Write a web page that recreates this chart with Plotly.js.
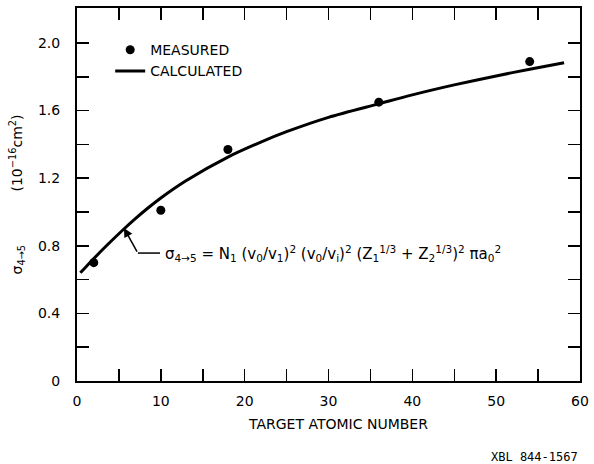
<!DOCTYPE html>
<html>
<head>
<meta charset="utf-8">
<script src="https://cdn.plot.ly/plotly-3.0.1.min.js"></script>
<style>html,body{margin:0;padding:0;background:#fff;}#chart{width:594px;height:464px;}</style>
</head>
<body>
<div id="chart"></div>
<script>
// Measured cross sections (10^-16 cm^2) vs target atomic number
const measuredZ = [2, 10, 18, 36, 54];
const measuredSigma = [0.70, 1.01, 1.37, 1.65, 1.89];

// Calculated curve
const calcZ = [0.4, 1, 2, 3, 4, 5.5, 7, 8.5, 10, 13, 18, 22, 25, 30, 36, 40, 45, 50, 54, 58.1];
const calcSigma = [0.64, 0.672, 0.724, 0.775, 0.824, 0.895, 0.962, 1.025, 1.083, 1.185, 1.325, 1.415, 1.475, 1.56, 1.64, 1.693, 1.752, 1.805, 1.845, 1.883];

// Tick labels
const xTickVals = [0, 5, 10, 15, 20, 25, 30, 35, 40, 45, 50, 55, 60];
const xTickText = ['0', '', '10', '', '20', '', '30', '', '40', '', '50', '', '60'];
const yTickVals = [0, 0.2, 0.4, 0.6, 0.8, 1.0, 1.2, 1.4, 1.6, 1.8, 2.0];
const yTickText = ['0', '', '0.4', '', '0.8', '', '1.2', '', '1.6', '', '2.0'];

const FONT = 'DejaVu Sans, Arial, sans-serif';

const traces = [
  {
    x: calcZ, y: calcSigma, mode: 'lines', name: 'CALCULATED',
    line: {color: '#000', width: 3, shape: 'spline', smoothing: 0.8},
    legendrank: 2
  },
  {
    x: measuredZ, y: measuredSigma, mode: 'markers', name: 'MEASURED',
    marker: {color: '#000', size: 9},
    legendrank: 1
  }
];

const layout = {
  width: 594, height: 464,
  margin: {l: 77, r: 14, t: 8, b: 83},
  paper_bgcolor: '#fff', plot_bgcolor: '#fff',
  font: {family: FONT, color: '#000', size: 13},
  showlegend: true,
  legend: {
    x: 0.066, y: 0.93, xanchor: 'left', yanchor: 'top',
    bgcolor: 'rgba(0,0,0,0)', borderwidth: 0,
    font: {family: FONT, size: 14, color: '#000'},
    itemwidth: 30, tracegroupgap: 0
  },
  xaxis: {
    range: [0, 60], tickvals: xTickVals, ticktext: xTickText,
    ticks: 'inside', ticklen: 12, tickwidth: 1.5, tickcolor: '#000',
    showline: true, linecolor: '#000', linewidth: 2, mirror: 'ticks',
    showgrid: false, zeroline: false, ticklabelstandoff: 6,
    tickfont: {family: FONT, size: 14, color: '#000'}
  },
  yaxis: {
    range: [0, 2.207], tickvals: yTickVals, ticktext: yTickText,
    ticks: 'inside', ticklen: 12, tickwidth: 1.5, tickcolor: '#000',
    showline: true, linecolor: '#000', linewidth: 2, mirror: 'ticks',
    showgrid: false, zeroline: false, ticklabelstandoff: 12,
    tickfont: {family: FONT, size: 14, color: '#000'},
    title: {text: 'σ<sub>4→5</sub>            (10<sup>−16</sup>cm<sup>2</sup>)', font: {family: FONT, size: 14}, standoff: 12}
  },
  shapes: [
    {type: 'line', xref: 'x', yref: 'y', x0: 7.26, y0: 0.757, x1: 9.9, y1: 0.757, line: {color: '#000', width: 1.5}}
  ],
  annotations: [
    {
      xref: 'x', yref: 'y', x: 5.6, y: 0.905, axref: 'x', ayref: 'y', ax: 7.26, ay: 0.757,
      text: '', showarrow: true, arrowhead: 2, arrowsize: 1.2, arrowwidth: 1.5, arrowcolor: '#000'
    },
    {
      xref: 'x', yref: 'y', x: 10.3, y: 0.757, xanchor: 'left', yanchor: 'middle', showarrow: false,
      font: {family: FONT, size: 15, color: '#000'},
      text: 'σ<sub>4→5</sub> = N<sub>1</sub> (v<sub>0</sub>/v<sub>1</sub>)<sup>2</sup> (v<sub>0</sub>/v<sub>i</sub>)<sup>2</sup> (Z<sub>1</sub><sup>1/3</sup> + Z<sub>2</sub><sup>1/3</sup>)<sup>2</sup> πa<sub>0</sub><sup>2</sup>'
    },
    {
      xref: 'paper', yref: 'paper', x: 0.519, y: -0.115, xanchor: 'center', yanchor: 'middle', showarrow: false,
      font: {family: FONT, size: 14, color: '#000'}, text: 'TARGET ATOMIC NUMBER'
    },
    {
      xref: 'paper', yref: 'paper', x: 1.0, y: -0.205, xanchor: 'right', yanchor: 'middle', showarrow: false,
      font: {family: 'DejaVu Sans Mono, monospace', size: 12, color: '#000'}, text: 'XBL 844-1567'
    }
  ]
};

Plotly.newPlot('chart', traces, layout, {displayModeBar: false, staticPlot: true});
</script>
</body>
</html>
